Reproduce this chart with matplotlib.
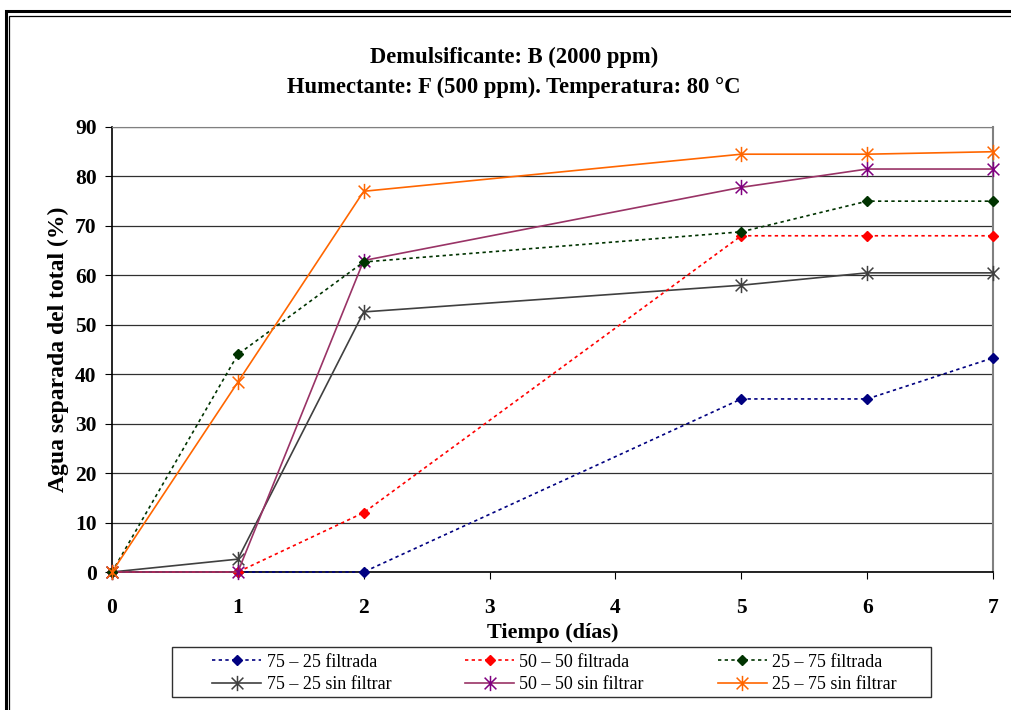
import matplotlib
matplotlib.use("Agg")
import matplotlib.pyplot as plt
from matplotlib.patches import Rectangle
from matplotlib.path import Path

plt.rcParams["font.family"] = ["Liberation Serif", "DejaVu Serif"]

# data
dias = [0, 1, 2, 5, 6, 7]
f_75_25 = [0, 0, 0, 35, 35, 43.3]
f_50_50 = [0, 0, 12, 68, 68, 68]
f_25_75 = [0, 44, 62.7, 68.8, 75, 75]
sf_75_25 = [0, 2.6, 52.6, 58, 60.5, 60.5]
sf_50_50 = [0, 0, 63, 77.8, 81.5, 81.5]
sf_25_75 = [0, 38.4, 77, 84.5, 84.5, 85]

labels_f = ["75 – 25 filtrada", "50 – 50 filtrada", "25 – 75 filtrada"]
labels_sf = ["75 – 25 sin filtrar", "50 – 50 sin filtrar", "25 – 75 sin filtrar"]

# asterisk marker: x plus vertical bar
ast = Path([(-1, -1), (1, 1), (-1, 1), (1, -1), (0, -1.3), (0, 1.3)],
           [Path.MOVETO, Path.LINETO, Path.MOVETO, Path.LINETO, Path.MOVETO, Path.LINETO])

W, H = 1012, 710
fig = plt.figure(figsize=(W / 100, H / 100), dpi=100)

# double frame around the chart
fig.patches.append(Rectangle((6 / W, -0.1), 1.2, 1.1 - 11 / H, transform=fig.transFigure,
                             fill=False, lw=2.2, ec="black"))
fig.patches.append(Rectangle((9.5 / W, -0.1), 1.2, 1.1 - 16 / H, transform=fig.transFigure,
                             fill=False, lw=0.9, ec="black"))

ax = fig.add_axes([112 / W, 1 - 572 / H, 881 / W, 445 / H])

dash = (0, (2, 2))
common = dict(lw=1.2, zorder=3, clip_on=False)
h1, = ax.plot(dias, f_75_25, ls=dash, color="#000080", marker="D", ms=5.5, **common)
h2, = ax.plot(dias, sf_75_25, color="#404040", marker=ast, ms=11, mew=1.1, **common)
h3, = ax.plot(dias, f_50_50, ls=dash, color="#FF0000", marker="D", ms=5.5, **common)
h4, = ax.plot(dias, sf_50_50, color="#993366", marker=ast, ms=11, mew=1.1, mec="#800080", **common)
h5, = ax.plot(dias, f_25_75, ls=dash, color="#003300", marker="D", ms=5.5, **common)
h6, = ax.plot(dias, sf_25_75, color="#FF6600", marker=ast, ms=11, mew=1.1, **common)

ax.set_xlim(0, 7)
ax.set_ylim(0, 90)
ax.set_xticks(range(8))
ax.set_yticks(range(0, 91, 10))
ax.yaxis.grid(True, color="#303030", lw=0.9)
ax.set_axisbelow(True)
ax.tick_params(labelsize=15.5, length=5, direction="out")
ax.tick_params(axis="x", pad=14)
ax.tick_params(axis="y", pad=6)
for lab in ax.get_xticklabels() + ax.get_yticklabels():
    lab.set_fontweight("bold")
ax.spines["top"].set_color("#808080")
ax.spines["right"].set_color("#808080")
ax.spines["right"].set_lw(1.5)
ax.spines["left"].set_lw(1.2)
ax.spines["bottom"].set_lw(1.2)

ax.set_xlabel("Tiempo (días)", fontsize=16, fontweight="bold", labelpad=3)
ax.set_ylabel("Agua separada del total (%)", fontsize=17, fontweight="bold", labelpad=4)

fig.text(0.508, 1 - 57 / H, "Demulsificante: B (2000 ppm)", ha="center", va="center",
         fontsize=16.3, fontweight="bold")
fig.text(0.508, 1 - 87 / H, "Humectante: F (500 ppm). Temperatura: 80 °C", ha="center",
         va="center", fontsize=16.3, fontweight="bold")

# legend box drawn separately so the inner spacing can match
fig.patches.append(Rectangle((172 / W, 1 - 697 / H), 759 / W, 50 / H, transform=fig.transFigure,
                             fill=False, lw=1.0, ec="#303030"))
fig.legend([h1, h2, h3, h4, h5, h6],
           [labels_f[0], labels_sf[0], labels_f[1], labels_sf[1], labels_f[2], labels_sf[2]],
           ncol=3, loc="center", bbox_to_anchor=(554.5 / W, 1 - 673.5 / H),
           fontsize=13, frameon=False, borderpad=0, labelspacing=0.3,
           handlelength=2.7, handletextpad=0.3, columnspacing=4.1)

fig.savefig("out.png", dpi=100)
